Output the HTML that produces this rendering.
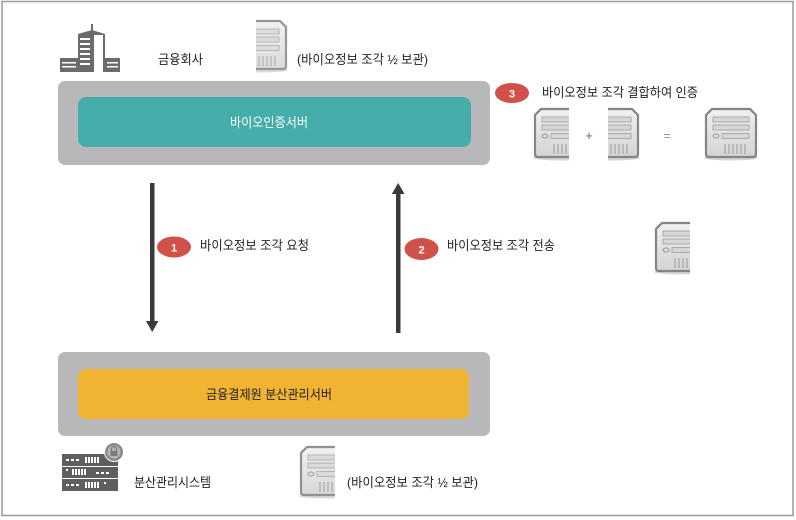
<!DOCTYPE html>
<html>
<head>
<meta charset="utf-8">
<style>
  html,body{margin:0;padding:0;background:#fff;}
  body{width:796px;height:520px;overflow:hidden;}
  svg{display:block;}
  text{font-family:"Liberation Sans","Noto Sans CJK KR","NanumGothic",sans-serif;}
</style>
</head>
<body>
<svg width="796" height="520" viewBox="0 0 796 520" xmlns="http://www.w3.org/2000/svg">
  <defs>
    <linearGradient id="srvg" x1="0" y1="0" x2="0" y2="1">
      <stop offset="0" stop-color="#f0f0f0"/>
      <stop offset="1" stop-color="#d4d4d4"/>
    </linearGradient>
    <g id="server">
      <ellipse cx="26" cy="50" rx="27" ry="2.5" fill="#d4d4d4"/>
      <path d="M7,1 H45 L51,7 V46 Q51,49 48,49 H4 Q1,49 1,46 V7 Z" fill="url(#srvg)" stroke="#858585" stroke-width="2.2"/>
      <rect x="8" y="9" width="36" height="5" fill="#d6d6d6" stroke="#ababab" stroke-width="1"/>
      <rect x="8" y="17" width="36" height="5" fill="#d6d6d6" stroke="#ababab" stroke-width="1"/>
      <ellipse cx="11" cy="28" rx="3" ry="2" fill="#ddd" stroke="#999" stroke-width="1"/>
      <rect x="17" y="25.5" width="27" height="5" fill="#d6d6d6" stroke="#ababab" stroke-width="1"/>
      <g stroke="#a4a4a4" stroke-width="1.2">
        <line x1="20" y1="36" x2="20" y2="46"/><line x1="24" y1="36" x2="24" y2="46"/>
        <line x1="28" y1="36" x2="28" y2="46"/><line x1="32" y1="36" x2="32" y2="46"/>
        <line x1="36" y1="36" x2="36" y2="46"/><line x1="40" y1="36" x2="40" y2="46"/>
      </g>
    </g>
    <clipPath id="leftHalf"><rect x="-3" y="-3" width="38" height="60"/></clipPath>
    <clipPath id="rightHalf"><rect x="21" y="-3" width="34" height="60"/></clipPath>
  </defs>

  <!-- outer frame -->
  <rect x="2" y="1.5" width="791" height="514" fill="none" stroke="#9a9a9a" stroke-width="1.5"/>

  <!-- building icon -->
  <g fill="#6b6b6b">
    <rect x="91" y="24" width="2" height="8"/>
    <path d="M78,34 L92,30 L92,72 L78,72 Z"/>
    <path d="M92,30 L105,34 L105,72 L92,72 Z"/>
    <rect x="94" y="35" width="9" height="37" fill="#fff"/>
    <rect x="60" y="58" width="18" height="14"/>
    <rect x="105" y="58" width="15" height="14"/>
    <g fill="#fff">
      <rect x="80" y="38" width="10" height="2"/><rect x="80" y="43" width="10" height="2"/>
      <rect x="80" y="48" width="10" height="2"/><rect x="80" y="53" width="10" height="2"/>
      <rect x="80" y="58" width="10" height="2"/><rect x="80" y="63" width="10" height="2"/>
      <rect x="62" y="62" width="14" height="1.5"/><rect x="62" y="66" width="14" height="1.5"/>
      <rect x="107" y="62" width="11" height="1.5"/><rect x="107" y="66" width="11" height="1.5"/>
    </g>
  </g>

  <text x="158" y="64" font-size="13" fill="#222" textLength="45" lengthAdjust="spacingAndGlyphs">금융회사</text>
  <!-- top server (right half) -->
  <g transform="translate(235,20)" clip-path="url(#rightHalf)" opacity="0.85"><use href="#server"/></g>
  <text x="297" y="64" font-size="13" fill="#222" textLength="131" lengthAdjust="spacingAndGlyphs">(바이오정보 조각 ½ 보관)</text>

  <!-- top gray box -->
  <rect x="58" y="81" width="432" height="84" rx="7" fill="#b8b8bb"/>
  <rect x="78" y="97" width="393" height="50" rx="8" fill="#45aeab"/>
  <text x="269" y="127" font-size="13" fill="#fff" text-anchor="middle" textLength="78" lengthAdjust="spacingAndGlyphs">바이오인증서버</text>

  <!-- badge 3 & combine -->
  <ellipse cx="512" cy="93" rx="17" ry="10" fill="#d2504a"/>
  <text x="512" y="97.5" font-size="11" font-weight="bold" fill="#fff" text-anchor="middle">3</text>
  <text x="542" y="97" font-size="13" fill="#222" textLength="156" lengthAdjust="spacingAndGlyphs">바이오정보 조각 결합하여 인증</text>

  <g transform="translate(534,108)" clip-path="url(#leftHalf)"><use href="#server"/></g>
  <text x="589" y="140" font-size="13" fill="#666" text-anchor="middle">+</text>
  <g transform="translate(587,108)" clip-path="url(#rightHalf)"><use href="#server"/></g>
  <text x="667" y="140" font-size="13" fill="#999" text-anchor="middle">=</text>
  <g transform="translate(705,108)"><use href="#server"/></g>

  <!-- lone half server -->
  <g transform="translate(655,222)" clip-path="url(#leftHalf)"><use href="#server"/></g>

  <!-- arrows -->
  <rect x="150" y="183" width="4.5" height="140" fill="#3a3a3a"/>
  <path d="M146,321 L158.5,321 L152.2,332 Z" fill="#3a3a3a"/>
  <rect x="396" y="193" width="4.5" height="140" fill="#3a3a3a"/>
  <path d="M391.8,194 L404.5,194 L398.2,183 Z" fill="#3a3a3a"/>

  <!-- badge 1 -->
  <ellipse cx="174" cy="247" rx="17" ry="10.5" fill="#d2504a"/>
  <text x="174" y="251.5" font-size="11" font-weight="bold" fill="#fff" text-anchor="middle">1</text>
  <text x="200" y="250" font-size="13" fill="#222" textLength="109" lengthAdjust="spacingAndGlyphs">바이오정보 조각 요청</text>

  <!-- badge 2 -->
  <ellipse cx="421.5" cy="249" rx="17" ry="11" fill="#d2504a"/>
  <text x="421.5" y="253.5" font-size="11" font-weight="bold" fill="#fff" text-anchor="middle">2</text>
  <text x="447" y="250" font-size="13" fill="#222" textLength="108" lengthAdjust="spacingAndGlyphs">바이오정보 조각 전송</text>

  <!-- bottom gray box -->
  <rect x="58" y="352" width="432" height="84" rx="7" fill="#b8b8bb"/>
  <rect x="78" y="369" width="391" height="50" rx="8" fill="#f0b332"/>
  <text x="269" y="399" font-size="13" fill="#222" text-anchor="middle" textLength="126" lengthAdjust="spacingAndGlyphs">금융결제원 분산관리서버</text>

  <!-- rack icon -->
  <g>
    <rect x="62" y="454" width="56" height="12" fill="#5f5f5f"/>
    <rect x="62" y="467" width="56" height="11" fill="#5f5f5f"/>
    <rect x="62" y="479" width="56" height="12" fill="#5f5f5f"/>
    <g fill="#fff">
      <rect x="66" y="459" width="3" height="2"/><rect x="71" y="459" width="3" height="2"/><rect x="76" y="459" width="3" height="2"/>
      <rect x="85" y="457" width="2" height="6"/><rect x="88" y="457" width="2" height="6"/><rect x="91" y="457" width="2" height="6"/><rect x="94" y="457" width="2" height="6"/><rect x="97" y="457" width="2" height="6"/>
      <rect x="66" y="469" width="2" height="2"/>
      <rect x="72" y="469" width="2" height="6"/><rect x="75" y="469" width="2" height="6"/><rect x="78" y="469" width="2" height="6"/><rect x="81" y="469" width="2" height="6"/><rect x="84" y="469" width="2" height="6"/>
      <rect x="96" y="472" width="3" height="2"/><rect x="101" y="472" width="3" height="2"/><rect x="106" y="472" width="3" height="2"/>
      <rect x="66" y="484" width="3" height="2"/><rect x="71" y="484" width="3" height="2"/><rect x="76" y="484" width="3" height="2"/>
      <rect x="85" y="482" width="2" height="6"/><rect x="88" y="482" width="2" height="6"/><rect x="91" y="482" width="2" height="6"/><rect x="94" y="482" width="2" height="6"/><rect x="97" y="482" width="2" height="6"/>
      <rect x="104" y="482" width="2" height="2"/>
    </g>
    <circle cx="114" cy="452" r="10" fill="#fff"/>
    <circle cx="114" cy="452" r="9" fill="#8a8a8a"/>
    <circle cx="114" cy="452" r="6.5" fill="#b5b5b5"/>
    <rect x="110.5" y="451" width="7" height="5" fill="#7a7a7a"/>
    <path d="M111.5,451 V449 A2.5,2.5 0 0 1 116.5,449 V451" fill="none" stroke="#7a7a7a" stroke-width="1.3"/>
  </g>
  <text x="134" y="487" font-size="13" fill="#222" textLength="77" lengthAdjust="spacingAndGlyphs">분산관리시스템</text>

  <!-- bottom server (left half) -->
  <g transform="translate(300,446)" clip-path="url(#leftHalf)" opacity="0.9"><use href="#server"/></g>
  <text x="347" y="487" font-size="13" fill="#222" textLength="131" lengthAdjust="spacingAndGlyphs">(바이오정보 조각 ½ 보관)</text>
</svg>
</body>
</html>
